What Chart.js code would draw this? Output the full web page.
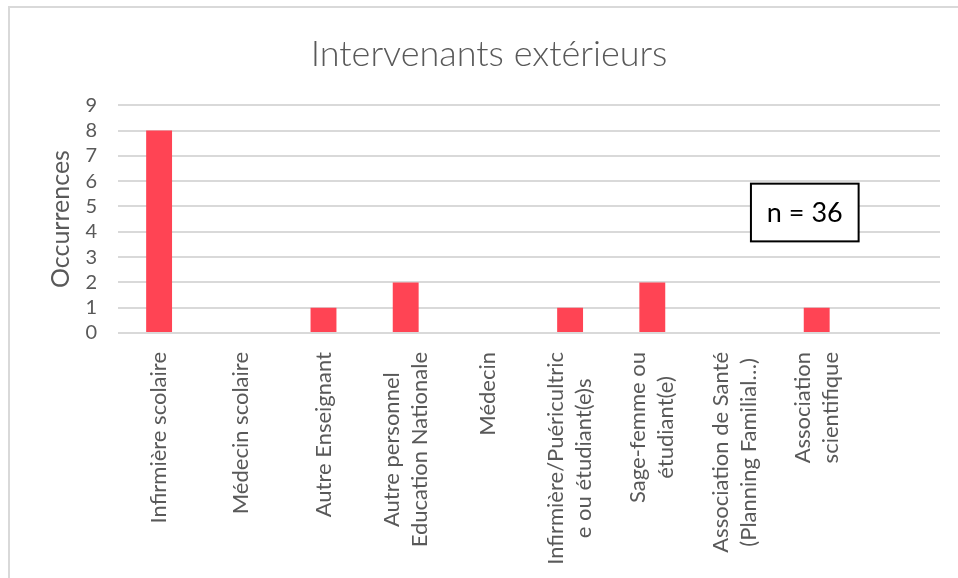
<!DOCTYPE html>
<html>
<head>
<meta charset="utf-8">
<script src="https://cdn.jsdelivr.net/npm/chart.js@4.4.1/dist/chart.umd.min.js"></script>
<style>
  html, body { margin: 0; padding: 0; background: #ffffff; }
  #wrap { position: relative; width: 958px; height: 578px; overflow: hidden; }
  #frame { position: absolute; left: 8px; top: 6px; width: 1000px; height: 1000px;
           border-top: 2px solid #d9d9d9; border-left: 2px solid #d9d9d9; }
  canvas { position: absolute; left: 0; top: 0; }
</style>
</head>
<body>
<div id="wrap">
  <div id="frame"></div>
  <canvas id="c" width="958" height="578"></canvas>
</div>
<script>
// ---- data ----
const chartTitle = 'Intervenants extérieurs';
const yAxisTitle = 'Occurrences';
const categories = [
  ['Infirmière scolaire'],
  ['Médecin scolaire'],
  ['Autre Enseignant'],
  ['Autre personnel', 'Education Nationale'],
  ['Médecin'],
  ['Infirmière/Puéricultric', 'e ou étudiant(e)s'],
  ['Sage-femme ou', 'étudiant(e)'],
  ['Association de Santé', '(Planning Familial…)'],
  ['Association', 'scientifique'],
  ['']
];
const occurrences = [8, 0, 1, 2, 0, 1, 2, 0, 1, null];
const yTicks = [0, 1, 2, 3, 4, 5, 6, 7, 8, 9];
const noteText = 'n = 36';

// ---- styling ----
const FONT = 'Lato, "Open Sans", sans-serif';
const GREY = '#595959';
const GRID = '#d9d9d9';
const BAR = '#ff4454';
const X_LABEL_SIZE = 22;
const X_LABEL_LINE = 28;
const X_LABEL_PAD = 19;

const xLabelsPlugin = {
  id: 'xLabels',
  afterDraw(chart) {
    const xs = chart.scales.x;
    const ctx = chart.ctx;
    ctx.save();
    ctx.font = X_LABEL_SIZE + 'px ' + FONT;
    ctx.fillStyle = GREY;
    ctx.textAlign = 'center';
    ctx.textBaseline = 'middle';
    categories.forEach((lines, i) => {
      const x = xs.getPixelForTick(i);
      const y = xs.top + X_LABEL_PAD;
      const maxW = Math.max(...lines.map(l => ctx.measureText(l).width));
      ctx.save();
      ctx.translate(x, y);
      ctx.rotate(-Math.PI / 2);
      lines.forEach((l, j) => {
        ctx.fillText(l, -maxW / 2, (j - (lines.length - 1) / 2) * X_LABEL_LINE);
      });
      ctx.restore();
    });
    ctx.restore();
  }
};

const notePlugin = {
  id: 'note',
  afterDraw(chart) {
    const xs = chart.scales.x, ys = chart.scales.y;
    const ctx = chart.ctx;
    // box anchored in data space
    const x0 = xs.getPixelForValue(7.2), x1 = xs.getPixelForValue(8.51);
    const y0 = ys.getPixelForValue(5.9), y1 = ys.getPixelForValue(3.62);
    ctx.save();
    ctx.fillStyle = '#ffffff';
    ctx.fillRect(x0, y0, x1 - x0, y1 - y0);
    ctx.strokeStyle = '#000000';
    ctx.lineWidth = 2;
    ctx.strokeRect(x0, y0, x1 - x0, y1 - y0);
    ctx.fillStyle = '#000000';
    ctx.font = '27px ' + FONT;
    ctx.textAlign = 'center';
    ctx.textBaseline = 'middle';
    ctx.fillText(noteText, (x0 + x1) / 2, (y0 + y1) / 2 + 1);
    ctx.restore();
  }
};

new Chart(document.getElementById('c'), {
  type: 'bar',
  data: {
    labels: categories,
    datasets: [{
      label: yAxisTitle,
      data: occurrences,
      backgroundColor: BAR,
      borderWidth: 0,
      barPercentage: 1.0,
      categoryPercentage: 0.315
    }]
  },
  options: {
    responsive: false,
    animation: false,
    devicePixelRatio: 1,
    layout: { padding: { left: 38, right: 18, top: 0, bottom: 0 } },
    plugins: {
      legend: { display: false },
      tooltip: { enabled: false },
      title: {
        display: true,
        text: chartTitle,
        color: GREY,
        font: { family: FONT, size: 36, weight: '300', lineHeight: 1.2 },
        padding: { top: 33, bottom: 29 }
      }
    },
    scales: {
      x: {
        grid: { display: false, drawTicks: false },
        border: { display: false },
        ticks: { display: false },
        afterFit(scale) { scale.height = 245; }
      },
      y: {
        min: 0,
        max: 9,
        afterBuildTicks(scale) { scale.ticks = yTicks.map(v => ({ value: v })); },
        grid: { color: GRID, lineWidth: 2, drawTicks: false },
        border: { display: false },
        ticks: { color: GREY, padding: 21, autoSkip: false, font: { family: FONT, size: 20 } },
        title: {
          display: true,
          text: yAxisTitle,
          color: GREY,
          font: { family: FONT, size: 25 },
          padding: { top: 8, bottom: 0 }
        },
        afterFit(scale) { scale.width = 80; }
      }
    }
  },
  plugins: [xLabelsPlugin, notePlugin]
});
</script>
</body>
</html>
